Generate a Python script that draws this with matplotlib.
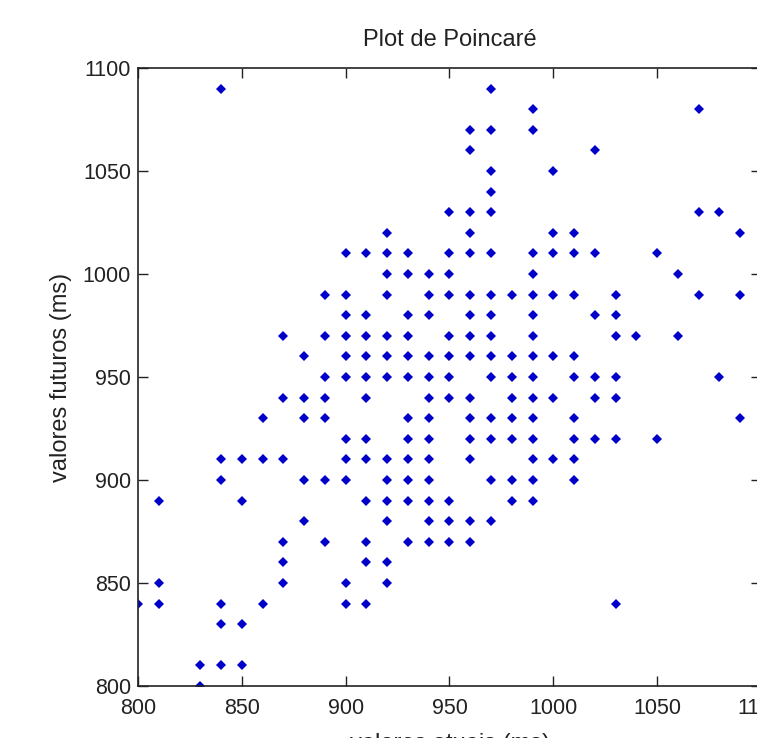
from matplotlib import pyplot as plt

# Poincaré plot: RR interval at time n (x) against RR interval at n+1 (y), in ms
valores_atuais = (
    [800]
    + [810] * 3
    + [830] * 2
    + [840] * 6
    + [850] * 4
    + [860] * 3
    + [870] * 6
    + [880] * 5
    + [890] * 7
    + [900] * 11
    + [910] * 12
    + [920] * 13
    + [930] * 12
    + [940] * 13
    + [950] * 11
    + [960] * 15
    + [970] * 15
    + [980] * 8
    + [990] * 15
    + [1000] * 7
    + [1010] * 9
    + [1020] * 6
    + [1030] * 7
    + [1040] * 1
    + [1050] * 2
    + [1060] * 2
    + [1070] * 3
    + [1080] * 2
    + [1090] * 3
)
valores_futuros = [
    840,
    890, 850, 840,
    810, 800,
    1090, 910, 900, 840, 830, 810,
    910, 890, 830, 810,
    930, 910, 840,
    970, 940, 910, 870, 860, 850,
    960, 940, 930, 900, 880,
    990, 970, 950, 940, 930, 900, 870,
    1010, 990, 980, 970, 960, 950, 920, 910, 900, 850, 840,
    1010, 980, 970, 960, 950, 940, 920, 910, 890, 870, 860, 840,
    1020, 1010, 1000, 990, 970, 960, 950, 910, 900, 890, 880, 860, 850,
    1010, 1000, 980, 970, 960, 950, 930, 920, 910, 900, 890, 870,
    1000, 990, 980, 960, 950, 940, 930, 920, 910, 900, 890, 880, 870,
    1030, 1010, 1000, 990, 970, 960, 950, 940, 890, 880, 870,
    1070, 1060, 1030, 1020, 1010, 990, 980, 970, 960, 940, 930, 920, 910, 880, 870,
    1090, 1070, 1050, 1040, 1030, 1010, 990, 980, 970, 960, 950, 930, 920, 900, 880,
    990, 960, 950, 940, 930, 920, 900, 890,
    1080, 1070, 1010, 1000, 990, 980, 970, 960, 950, 940, 930, 920, 910, 900, 890,
    1050, 1020, 1010, 990, 960, 940, 910,
    1020, 1010, 990, 960, 950, 930, 920, 910, 900,
    1060, 1010, 980, 950, 940, 920,
    990, 980, 970, 950, 940, 920, 840,
    970,
    1010, 920,
    1000, 970,
    1080, 1030, 990,
    1030, 950,
    1020, 990, 930,
]

x_ticks = [800, 850, 900, 950, 1000, 1050, 1100]
y_ticks = [800, 850, 900, 950, 1000, 1050, 1100]

plt.rcParams["font.family"] = ["Liberation Sans", "DejaVu Sans"]

fig = plt.figure(figsize=(7.57, 7.38), dpi=100)
# axes runs a little past the right edge, like the cropped original
ax = fig.add_axes([138 / 757, 52 / 738, 623 / 757, 618 / 738])

ax.plot(valores_atuais, valores_futuros, linestyle='none', marker='D',
        markersize=5.3, color='#0000c8', markeredgewidth=0)

ax.set_xlim(800, 1100)
ax.set_ylim(800, 1100)
ax.set_xticks(x_ticks)
ax.set_yticks(y_ticks)
ax.tick_params(direction='in', length=7, width=1, color='#222222',
               top=True, right=True, labelsize=15.5, labelcolor='#222222')
ax.tick_params(axis='x', pad=9)
ax.tick_params(axis='y', pad=5)
for s in ax.spines.values():
    s.set_linewidth(1.2)
    s.set_color('#222222')

ax.set_title("Plot de Poincaré", fontsize=17, pad=16, color='#222222')
ax.set_xlabel("valores atuais (ms)", fontsize=17, labelpad=10, color='#222222')
ax.set_ylabel("valores futuros (ms)", fontsize=17, labelpad=8, color='#222222')

plt.savefig('out.png', dpi=100)
